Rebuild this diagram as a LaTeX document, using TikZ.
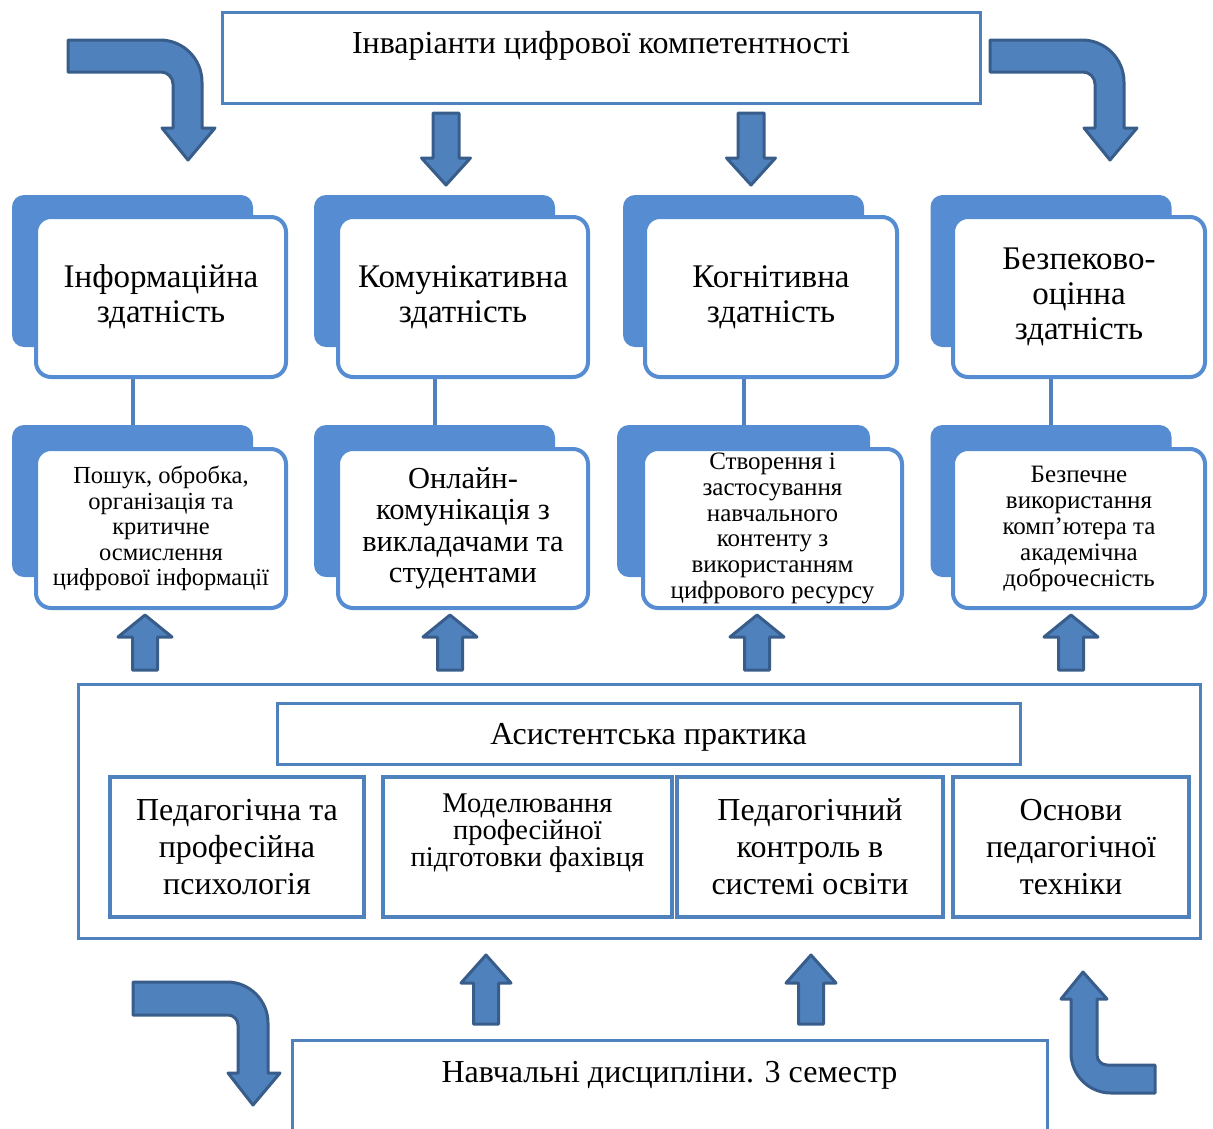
\documentclass[tikz,border=0pt]{standalone}
\usepackage{fontspec}
\setmainfont{Liberation Serif}
\definecolor{boxblue}{RGB}{79,129,189}
\definecolor{tabblue}{RGB}{85,140,210}
\definecolor{arrowedge}{RGB}{56,93,138}
\newcommand\fs[2]{\fontsize{#1}{#2}\selectfont}
\begin{document}
\begin{tikzpicture}[x=1pt,y=-1pt,
  frame/.style={draw=boxblue,line width=3pt,inner sep=0pt},
  tab/.style={fill=tabblue,rounded corners=12pt,inner sep=0pt,minimum width=241pt,minimum height=152pt},
  front/.style={draw=tabblue,fill=white,line width=4pt,rounded corners=15pt,inner sep=0pt,align=center},
  conn/.style={draw=boxblue,line width=4pt},
  blockarrow/.style={fill=boxblue,draw=arrowedge,line width=3pt,line join=round},
  txt/.style={align=center,inner sep=0pt}]
\useasboundingbox (0,0) rectangle (1213,1128);

% title box
\node[frame,minimum width=758pt,minimum height=91pt] (inv) at (601,57.5) {};
\node[txt,font=\fs{32}{36}] (invt) at (601,46) {Інваріанти цифрової компетентності};

% bent arrows at the top
\draw[blockarrow] (68,40) -- (160,40) .. controls (183.2,40) and (202,58.8) .. (202,82) -- (202,128) -- (215,128) -- (188,160) -- (162,128) -- (173,128) -- (173,84) .. controls (173,77.4) and (167.6,72) .. (161,72) -- (68,72) -- cycle;
\begin{scope}[xshift=922pt]
\draw[blockarrow] (68,40) -- (160,40) .. controls (183.2,40) and (202,58.8) .. (202,82) -- (202,128) -- (215,128) -- (188,160) -- (162,128) -- (173,128) -- (173,84) .. controls (173,77.4) and (167.6,72) .. (161,72) -- (68,72) -- cycle;
\end{scope}

% straight arrows below the title
\foreach \cx in {446,751}{
  \draw[blockarrow] (\cx-13,113) -- (\cx+13,113) -- (\cx+13,158) -- (\cx+24.5,158) -- (\cx,185) -- (\cx-24.5,158) -- (\cx-13,158) -- cycle;
}

% back tabs of the cards
\node[tab] (b1) at (132.5,271) {};
\node[tab] (b2) at (434.5,271) {};
\node[tab] (b3) at (743.5,271) {};
\node[tab] (b4) at (1051,271) {};
\node[tab] (d1) at (132.5,501) {};
\node[tab] (d2) at (434.5,501) {};
\node[tab,minimum width=253pt] (d3) at (743.5,501) {};
\node[tab] (d4) at (1051,501) {};

% links between the two card rows
\draw[conn] (b1.south) -- (d1.north);
\draw[conn] (b2.south) -- (d2.north);
\draw[conn] (b3.south) -- (d3.north);
\draw[conn] (b4.south) -- (d4.north);

% upper cards
\node[front,minimum width=250pt,minimum height=160pt,font=\fs{33}{35}] (f1) at (161,297) {Інформаційна\\здатність};
\node[front,minimum width=250pt,minimum height=160pt,font=\fs{33}{35}] (f2) at (463,297) {Комунікативна\\здатність};
\node[front,minimum width=252pt,minimum height=160pt,font=\fs{33}{35}] (f3) at (771,297) {Когнітивна\\здатність};
\node[front,minimum width=252pt,minimum height=160pt,font=\fs{33}{35}] (f4) at (1079,297) {Безпеково-\\оцінна\\здатність};

% lower cards
\node[front,minimum width=250pt,minimum height=159pt,font=\fs{24.5}{25.5}] (g1) at (161,528.5) {Пошук, обробка,\\організація та\\критичне\\осмислення\\цифрової інформації};
\node[front,minimum width=250pt,minimum height=159pt,font=\fs{30.5}{31.5}] (g2) at (463,528.5) {Онлайн-\\комунікація з\\викладачами та\\студентами};
\node[front,minimum width=259pt,minimum height=159pt,font=\fs{25}{25.8}] (g3) at (772.5,528.5) {Створення і\\застосування\\навчального\\контенту з\\використанням\\цифрового ресурсу};
\node[front,minimum width=252pt,minimum height=159pt,font=\fs{25}{26}] (g4) at (1079,528.5) {Безпечне\\використання\\комп’ютера та\\академічна\\доброчесність};

% practice block
\node[frame,minimum width=1122pt,minimum height=254pt] (pr) at (639,811) {};
\node[frame,minimum width=743pt,minimum height=61pt] (ap) at (648.5,733.5) {};
\node[txt,font=\fs{32}{36}] (apt) at (648.5,737) {Асистентська практика};
\node[frame,line width=3.5pt,minimum width=254pt,minimum height=140pt,align=center,font=\fs{32}{37}] (m1) at (237,847) {Педагогічна та\\професійна\\психологія};
\node[frame,line width=3.5pt,minimum width=289pt,minimum height=140pt] (m2) at (527.5,847) {};
\node[txt,font=\fs{28.5}{27}] (m2t) at (527.5,833) {Моделювання\\професійної\\підготовки фахівця};
\node[frame,line width=3.5pt,minimum width=266pt,minimum height=140pt,align=center,font=\fs{32}{37}] (m3) at (810,847) {Педагогічний\\контроль в\\системі освіти};
\node[frame,line width=3.5pt,minimum width=236pt,minimum height=140pt,align=center,font=\fs{32}{37}] (m4) at (1071,847) {Основи\\педагогічної\\техніки};

% arrows from the practice block up to the cards
\foreach \cx in {145,450,757,1071}{
  \draw[blockarrow] (\cx-12.5,670) -- (\cx+12.5,670) -- (\cx+12.5,637) -- (\cx+27,637) -- (\cx,615) -- (\cx-27,637) -- (\cx-12.5,637) -- cycle;
}

% disciplines block, open at the bottom
\node[txt,font=\fs{32}{36}] (sem) at (669.5,1075) {Навчальні дисципліни. 3 семестр};
\coordinate (semL) at (292,1132);
\coordinate (semR) at (1047,1132);
\draw[boxblue,line width=3pt] (semL) -- (292,1040) -- (1047,1040) -- (semR);

% arrows from the disciplines block up to the practice block
\foreach \cx in {486,811}{
  \draw[blockarrow] (\cx-12.5,1024) -- (\cx+12.5,1024) -- (\cx+12.5,983) -- (\cx+25,983) -- (\cx,955) -- (\cx-25,983) -- (\cx-12.5,983) -- cycle;
}

% bent arrows at the bottom
\draw[blockarrow] (133,982) -- (227,982) .. controls (249.6,982) and (268,1000.4) .. (268,1023) -- (268,1073) -- (280,1073) -- (253,1105) -- (228,1073) -- (238,1073) -- (238,1025) .. controls (238,1019.5) and (233.5,1015) .. (228,1015) -- (133,1015) -- cycle;
\draw[blockarrow] (1083,972) -- (1107,999) -- (1097,999) -- (1097,1055) .. controls (1097,1060.5) and (1101.5,1065) .. (1107,1065) -- (1155,1065) -- (1155,1093) -- (1111,1093) .. controls (1088.9,1093) and (1071,1075.1) .. (1071,1053) -- (1071,999) -- (1061,999) -- cycle;
\end{tikzpicture}
\end{document}
